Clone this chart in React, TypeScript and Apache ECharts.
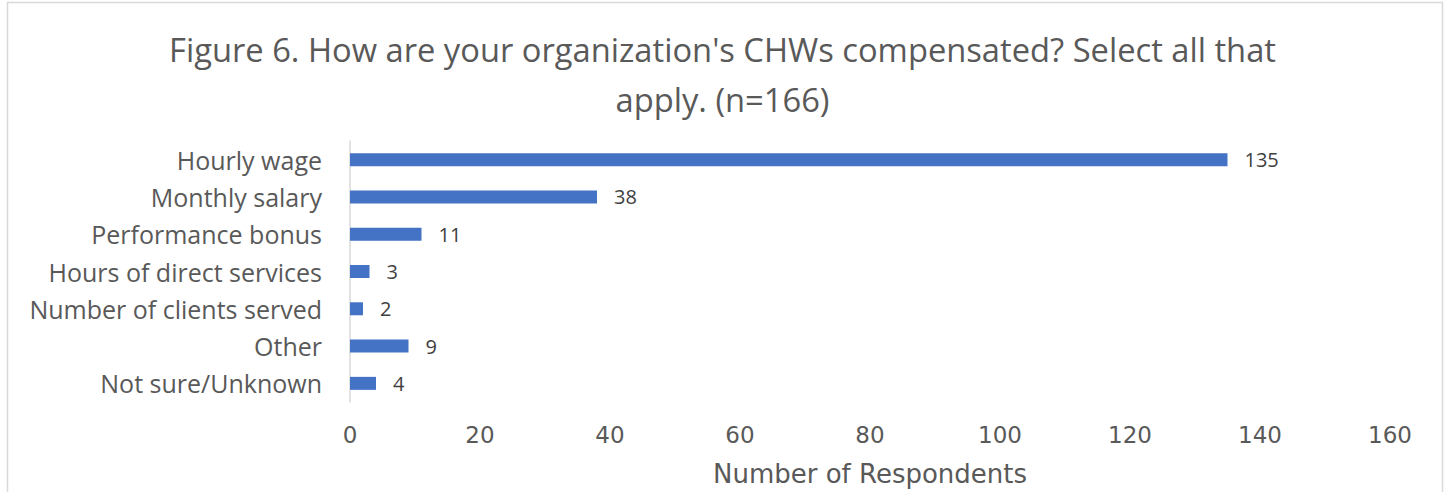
import React, { useEffect, useRef } from "react";
import * as echarts from "echarts";

const categories = [
  "Hourly wage",
  "Monthly salary",
  "Performance bonus",
  "Hours of direct services",
  "Number of clients served",
  "Other",
  "Not sure/Unknown",
];
const respondents = [135, 38, 11, 3, 2, 9, 4];
const titleText =
  "Figure 6. How are your organization's CHWs compensated? Select all that\napply. (n=166)";
const xAxisName = "Number of Respondents";

const FONT = "'Open Sans', 'Noto Sans', sans-serif";
const AXFONT = "'DejaVu Sans', sans-serif";

export default function App() {
  const ref = useRef<HTMLDivElement>(null);
  useEffect(() => {
    if (!ref.current) return;
    const chart = echarts.init(ref.current, null, { renderer: "svg" });
    chart.setOption({
      animation: false,
      backgroundColor: "#ffffff",
      textStyle: { fontFamily: FONT },
      title: {
        text: titleText,
        left: "center",
        top: 19,
        textStyle: {
          fontFamily: FONT,
          fontSize: 32.7,
          fontWeight: "normal",
          color: "#595959",
          lineHeight: 50,
        },
      },
      graphic: [
        {
          type: "rect",
          shape: { x: 7.5, y: 2.5, width: 1435, height: 520 },
          style: { fill: "none", stroke: "#d9d9d9", lineWidth: 1.5 },
          silent: true,
        },
      ],
      grid: { left: 350, right: 55, top: 141, height: 263, containLabel: false },
      xAxis: {
        type: "value",
        min: 0,
        max: 160,
        interval: 20,
        splitLine: { show: false },
        axisLine: { show: false },
        axisTick: { show: false },
        axisLabel: {
          margin: 21,
          fontFamily: AXFONT,
          fontSize: 23,
          color: "#595959",
        },
        name: xAxisName,
        nameLocation: "middle",
        nameGap: 59,
        nameTextStyle: { fontFamily: AXFONT, fontSize: 26, color: "#595959" },
      },
      yAxis: {
        type: "category",
        data: categories,
        inverse: true,
        axisLine: { show: true, lineStyle: { color: "#d9d9d9", width: 1.5 } },
        axisTick: { show: false },
        splitLine: { show: false },
        axisLabel: {
          margin: 28,
          fontFamily: FONT,
          fontSize: 25,
          color: "#595959",
        },
      },
      series: [
        {
          type: "bar",
          data: respondents,
          barWidth: 13,
          itemStyle: { color: "#4472c4" },
          label: {
            show: true,
            position: "right",
            distance: 17,
            fontFamily: FONT,
            fontSize: 20,
            color: "#404040",
          },
        },
      ],
    });
    return () => chart.dispose();
  }, []);
  return (
    <div
      ref={ref}
      style={{ position: "absolute", left: 0, top: 0, width: 1445, height: 492 }}
    />
  );
}
